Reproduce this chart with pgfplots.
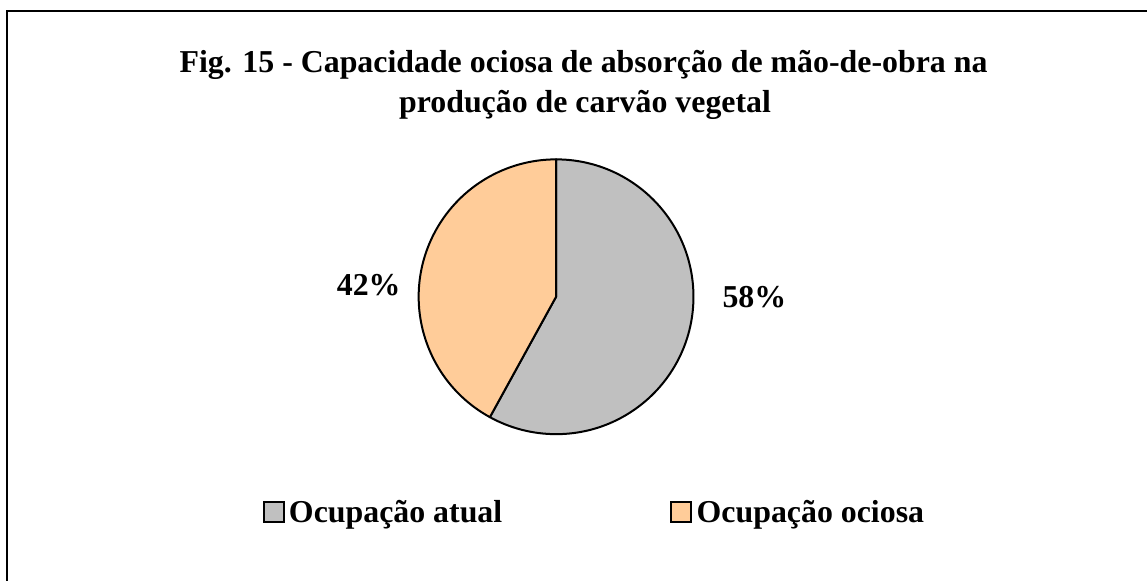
\documentclass[border=0pt]{standalone}
\usepackage{pgfplots}
\usepackage{pgfplotstable}
\pgfplotsset{compat=1.18}
\usepackage{fontspec}
\setmainfont{Liberation Serif}
\definecolor{slicegray}{HTML}{C0C0C0}
\definecolor{slicepeach}{HTML}{FFCC99}

\pgfplotstableread{
name value
atual 58
ociosa 42
}\piedata

\begin{document}
\begin{tikzpicture}
\pgfplotstablegetelem{0}{value}\of\piedata
\pgfmathsetmacro\va{\pgfplotsretval}
\pgfplotstablegetelem{1}{value}\of\piedata
\pgfmathsetmacro\vb{\pgfplotsretval}
\pgfmathsetmacro\angA{90-3.6*\va}
\pgfmathsetmacro\angB{\angA-3.6*\vb}
\begin{axis}[
  width=1148bp, height=581bp, scale only axis,
  xmin=0, xmax=1148, ymin=0, ymax=581,
  hide axis, clip=false,
  font=\fontsize{32}{40}\selectfont\bfseries,
]
\path (axis cs:0,0) rectangle (axis cs:1148,581);
% frame
\draw[line width=1.8bp, black] (axis cs:7,0) -- (axis cs:7,570) -- (axis cs:1148,570);
% title
\node[anchor=base, font=\fontsize{32}{40}\selectfont\bfseries] at (axis cs:584,508) {Fig. 15 - Capacidade ociosa de absorção de mão-de-obra na};
\node[anchor=base, font=\fontsize{32}{40}\selectfont\bfseries] at (axis cs:585.5,468) {produção de carvão vegetal};
% pie
\filldraw[fill=slicegray, draw=black, line width=2bp, line join=round]
  (axis cs:556.5,284) -- ++(90:137.5bp) arc[start angle=90, end angle=\angA, radius=137.5bp] -- cycle;
\filldraw[fill=slicepeach, draw=black, line width=2bp, line join=round]
  (axis cs:556.5,284) -- ++(\angA:137.5bp) arc[start angle=\angA, end angle=\angB, radius=137.5bp] -- cycle;
% labels
\node[anchor=base, font=\fontsize{32}{40}\selectfont\bfseries] at (axis cs:755,273) {58\%};
\node[anchor=base, font=\fontsize{32}{40}\selectfont\bfseries] at (axis cs:369,285) {42\%};
% legend
\filldraw[fill=slicegray, draw=black, line width=2bp] (axis cs:264.5,58.5) rectangle (axis cs:284.5,78.5);
\node[anchor=base west, inner sep=0pt, font=\fontsize{32}{40}\selectfont\bfseries] at (axis cs:289,58) {Ocupação atual};
\filldraw[fill=slicepeach, draw=black, line width=2bp] (axis cs:671.5,58.5) rectangle (axis cs:691.5,78.5);
\node[anchor=base west, inner sep=0pt, font=\fontsize{32}{40}\selectfont\bfseries] at (axis cs:697,58) {Ocupação ociosa};
\end{axis}
\end{tikzpicture}
\end{document}
